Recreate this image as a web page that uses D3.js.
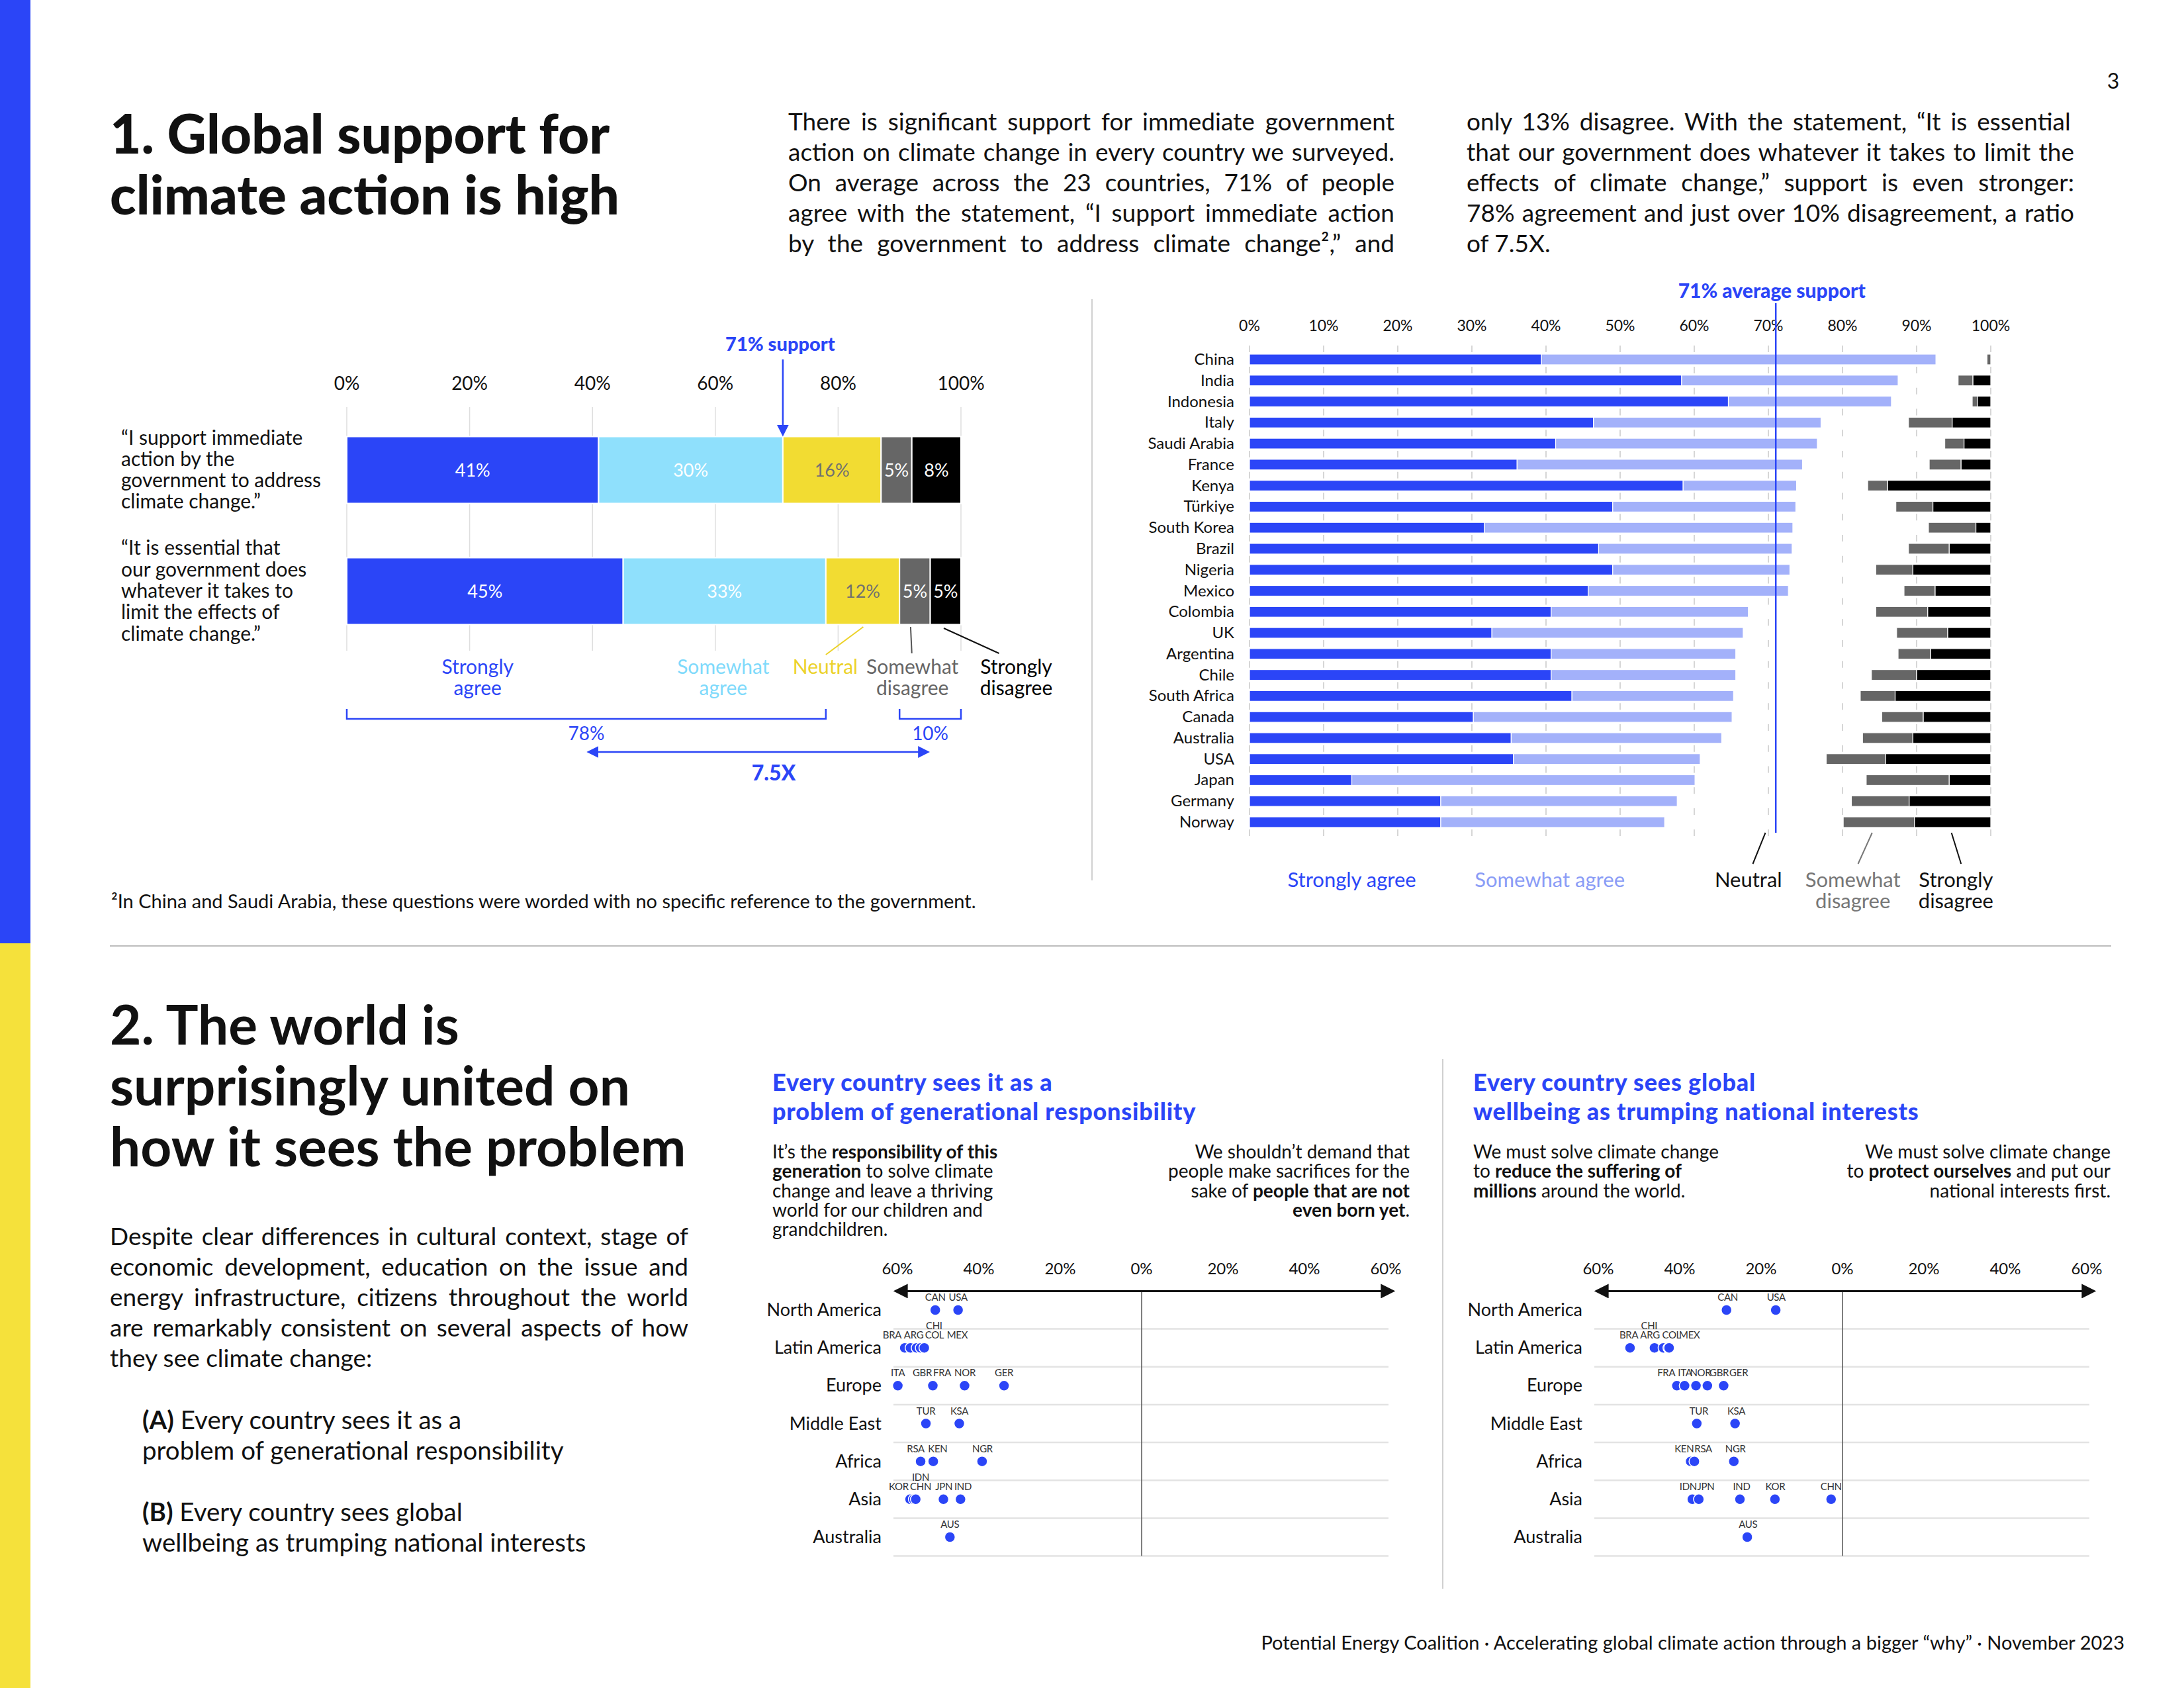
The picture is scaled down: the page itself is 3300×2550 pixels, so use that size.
<!DOCTYPE html>
<html><head><meta charset="utf-8">
<script src="https://cdn.jsdelivr.net/npm/d3@7"></script>
<style>
body{margin:0;background:#fff}
svg text{font-family:Lato,"Noto Sans",sans-serif}
</style></head>
<body><svg id="c" width="3300" height="2550"></svg>
<script>
// ---------------- DATA ----------------
const responseLabels = ["Strongly agree","Somewhat agree","Neutral","Somewhat disagree","Strongly disagree"];
const immediateActionShares = [41,30,16,5,8];
const whateverItTakesShares = [45,33,12,5,5];
const summaryTicks = [0,20,40,60,80,100];
const statementLines = [
  ["“I support immediate","action by the","government to address","climate change.”"],
  ["“It is essential that","our government does","whatever it takes to","limit the effects of","climate change.”"]
];
const averageSupport = 71;
const agreeDisagreeRatio = "7.5X";

const countries = ["China","India","Indonesia","Italy","Saudi Arabia","France","Kenya","Türkiye","South Korea","Brazil","Nigeria","Mexico","Colombia","UK","Argentina","Chile","South Africa","Canada","Australia","USA","Japan","Germany","Norway"];
const stronglyAgree    = [39.4,58.3,64.6,46.4,41.3,36.1,58.5,49.0,31.7,47.1,49.0,45.7,40.7,32.7,40.7,40.7,43.5,30.2,35.3,35.6,13.8,25.8,25.8];
const somewhatAgree    = [53.2,29.2,22.0,30.7,35.3,38.5,15.3,24.7,41.6,26.1,23.9,27.0,26.6,33.9,24.9,24.9,21.8,34.9,28.4,25.2,46.3,31.9,30.2];
const somewhatDisagree = [0.5,2.0,0.7,5.9,2.6,4.3,2.7,5.0,6.4,5.5,5.0,4.2,7.0,6.9,4.4,6.1,4.7,5.6,6.8,8.0,11.2,7.8,9.6];
const stronglyDisagree = [0.0,2.4,1.8,5.2,3.6,4.0,13.9,7.8,2.0,5.6,10.5,7.5,8.5,5.8,8.1,10.0,12.9,9.1,10.5,14.2,5.6,11.0,10.3];
const countryTicks = [0,10,20,30,40,50,60,70,80,90,100];

const regions = ["North America","Latin America","Europe","Middle East","Africa","Asia","Australia"];
const dotTicks = [-60,-40,-20,0,20,40,60];
// (A) generational responsibility: share leaning to left statement
const genCodes   = ["CAN","USA","BRA","ARG","CHI","COL","MEX","ITA","GBR","FRA","NOR","GER","TUR","KSA","RSA","KEN","NGR","KOR","IDN","CHN","JPN","IND","AUS"];
const genRegion  = [0,0,1,1,1,1,1,2,2,2,2,2,3,3,4,4,4,5,5,5,5,5,6];
const genValue   = [50.7,45.1,58.2,56.8,55.3,54.3,53.4,59.9,51.4,51.3,43.5,33.8,53.0,44.8,54.3,51.2,39.2,56.9,56.0,55.5,48.7,44.5,47.1];
const genLabelAt = [50.7,45.1,61.3,56.0,51.0,50.9,45.3,59.9,53.9,49.0,43.4,33.8,53.0,44.8,55.5,50.1,39.1,59.7,54.3,54.3,48.6,43.9,47.1];
const genTier    = [0,0,0,0,1,0,0,0,0,0,0,0,0,0,0,0,0,0,1,0,0,0,0];
// (B) global wellbeing vs national interests
const wellCodes   = ["CAN","USA","BRA","ARG","CHI","COL","MEX","FRA","ITA","NOR","GBR","GER","TUR","KSA","KEN","RSA","NGR","IDN","JPN","IND","KOR","CHN","AUS"];
const wellRegion  = [0,0,1,1,1,1,1,2,2,2,2,2,3,3,4,4,4,5,5,5,5,5,6];
const wellValue   = [28.5,16.4,52.2,46.2,44.0,42.8,42.6,40.7,38.8,36.0,33.2,29.2,35.8,26.4,37.3,36.4,26.7,36.9,35.3,25.2,16.6,2.8,23.4];
const wellLabelAt = [28.2,16.3,52.5,47.3,47.5,42.0,37.6,43.3,38.7,34.9,30.3,25.5,35.3,26.1,38.9,34.2,26.3,37.9,33.6,24.8,16.5,2.8,23.2];
const wellTier    = [0,0,0,0,1,0,0,0,0,0,0,0,0,0,0,0,0,0,0,0,0,0,0];

// ---------------- STYLE ----------------
const BLUE = "#2b45f7";
const respColors = [BLUE,"#8fe0fc","#f2dc32","#666666","#000000"];
const respText   = ["#ffffff","#ffffff","#707070","#ffffff","#ffffff"];
const SOFT_BLUE = "#a3b1fa";

const svg = d3.select("#c");
const defs = svg.append("defs");
function marker(id, color, size){
  defs.append("marker").attr("id",id).attr("viewBox","0 0 10 10").attr("refX",8).attr("refY",5)
    .attr("markerWidth",size).attr("markerHeight",size).attr("markerUnits","userSpaceOnUse")
    .attr("orient","auto-start-reverse")
    .append("path").attr("d","M0,0 L10,5 L0,10 z").attr("fill",color);
}
marker("arB", BLUE, 18);
marker("arK", "#111", 22);

function richText(g, str, x, y, size, o={}){
  const t = g.append("text").attr("x",x).attr("y",y).attr("font-size",size)
    .attr("fill",o.fill||"#111").attr("text-anchor",o.anchor||"start");
  if (o.weight) t.attr("font-weight",o.weight);
  if (o.ls) t.attr("letter-spacing",o.ls);
  str.split(/(\*\*[^*]+\*\*)/).filter(s=>s).forEach(seg=>{
    const b = seg.startsWith("**");
    t.append("tspan").attr("font-weight", b?700:null).text(b?seg.slice(2,-2):seg);
  });
  return t;
}
function block(g, lines, x, y0, lh, size, o={}){
  lines.forEach((ln,i)=>{
    const t = richText(g, ln, x, y0+i*lh, size, o);
    if (o.justify && !(o.lastLeft && i===lines.length-1)){
      const w = t.node().getComputedTextLength();
      const n = (ln.replace(/\*\*/g,"").match(/ /g)||[]).length;
      if (n) t.attr("word-spacing",(o.justify-w)/n);
    }
  });
}

// side strip
svg.append("rect").attr("x",0).attr("y",0).attr("width",46).attr("height",1425).attr("fill",BLUE);
svg.append("rect").attr("x",0).attr("y",1425).attr("width",46).attr("height",1125).attr("fill","#f5e13b");

const page = svg.append("g");
richText(page,"3",3193,134,32,{anchor:"middle"});

// ---------- Section 1 text ----------
block(page,["1. Global support for","climate action is high"],166,232,92,82,{weight:900});
block(page,[
 "There is significant support for immediate government",
 "action on climate change in every country we surveyed.",
 "On average across the 23 countries, 71% of people",
 "agree with the statement, “I support immediate action",
 "by the government to address climate change²,” and"],1191,197,46,37,{justify:916});
block(page,[
 "only 13% disagree.  With the statement, “It is essential",
 "that our government does whatever it takes to limit the",
 "effects of climate change,” support is even stronger:",
 "78% agreement and just over 10% disagreement, a ratio",
 "of 7.5X."],2216,197,46,37,{justify:918,lastLeft:true});

// ---------- Left summary chart ----------
(function(){
  const g = svg.append("g");
  const xs = d3.scaleLinear().domain([0,100]).range([524,1452]);
  const ys = d3.scalePoint().domain([0,1]).range([710,893]);
  const H = 101;
  g.selectAll(".gl").data(summaryTicks).join("line")
    .attr("x1",d=>xs(d)).attr("x2",d=>xs(d)).attr("y1",615).attr("y2",983)
    .attr("stroke","#dedede").attr("stroke-width",1.5);
  g.selectAll(".tl").data(summaryTicks).join("text")
    .attr("x",d=>xs(d)).attr("y",589).attr("text-anchor","middle").attr("font-size",28).attr("fill","#111")
    .text(d=>d+"%");
  [immediateActionShares, whateverItTakesShares].forEach((vals,i)=>{
    let cum=0;
    const segs = vals.map((v,j)=>{const s={j,v,a:cum,b:cum+v}; cum+=v; return s;});
    g.selectAll(".b"+i).data(segs).join("rect")
      .attr("x",d=>xs(d.a)).attr("width",d=>xs(d.b)-xs(d.a))
      .attr("y",ys(i)-H/2).attr("height",H)
      .attr("fill",d=>respColors[d.j]).attr("stroke","#fff").attr("stroke-width",2);
    g.selectAll(".v"+i).data(segs).join("text")
      .attr("x",d=>xs((d.a+d.b)/2)).attr("y",ys(i)+10).attr("text-anchor","middle")
      .attr("font-size",27).attr("fill",d=>respText[d.j]).text(d=>d.v+"%");
    const lines = statementLines[i];
    block(g, lines, 183, ys(i)+10-(lines.length-1)*32.3/2, 32.3, 30);
  });
  // 71% support arrow
  g.append("text").attr("x",xs(averageSupport)-4).attr("y",530).attr("text-anchor","middle")
    .attr("font-size",29).attr("font-weight",900).attr("fill",BLUE).text(averageSupport+"% support");
  g.append("line").attr("x1",xs(averageSupport)).attr("x2",xs(averageSupport)).attr("y1",543).attr("y2",656)
    .attr("stroke",BLUE).attr("stroke-width",2.5).attr("marker-end","url(#arB)");
  // legend labels
  const legAt = [21.3,61.3,77.9,92.1,109];
  const legLines = [["Strongly","agree"],["Somewhat","agree"],["Neutral"],["Somewhat","disagree"],["Strongly","disagree"]];
  const legCol = [BLUE,"#7fdafb","#ecd22a","#666666","#000000"];
  legLines.forEach((ls,k)=>ls.forEach((s,m)=>{
    g.append("text").attr("x",xs(legAt[k])).attr("y",1018+m*32).attr("text-anchor","middle")
      .attr("font-size",30).attr("fill",legCol[k]).text(s);
  }));
  const leaders = [[84.1,947,78.0,989,"#ecd22a"],[91.8,947,92.0,987,"#555"],[97.2,949,106.2,987,"#111"]];
  leaders.forEach(l=>g.append("line").attr("x1",xs(l[0])).attr("y1",l[1]).attr("x2",xs(l[2])).attr("y2",l[3])
    .attr("stroke",l[4]).attr("stroke-width",2));
  // brackets
  const agreeTotal = whateverItTakesShares[0]+whateverItTakesShares[1];
  const disTotal = whateverItTakesShares[3]+whateverItTakesShares[4];
  const br = (a,b)=>g.append("path").attr("d",`M${xs(a)},1071V1086H${xs(b)}V1071`)
    .attr("fill","none").attr("stroke",BLUE).attr("stroke-width",2.5);
  br(0,agreeTotal); br(100-disTotal,100);
  g.append("text").attr("x",xs(agreeTotal/2)).attr("y",1118).attr("text-anchor","middle").attr("font-size",28).attr("fill",BLUE).text(agreeTotal+"%");
  g.append("text").attr("x",xs(100-disTotal/2)).attr("y",1118).attr("text-anchor","middle").attr("font-size",28).attr("fill",BLUE).text(disTotal+"%");
  g.append("line").attr("x1",xs(agreeTotal/2)+4).attr("x2",xs(100-disTotal/2)-4).attr("y1",1136).attr("y2",1136)
    .attr("stroke",BLUE).attr("stroke-width",2.5).attr("marker-start","url(#arB)").attr("marker-end","url(#arB)");
  g.append("text").attr("x",xs(69.5)).attr("y",1179).attr("text-anchor","middle").attr("font-size",32)
    .attr("font-weight",900).attr("fill",BLUE).text(agreeDisagreeRatio);
})();

// divider + footnote + rule
svg.append("line").attr("x1",1650).attr("x2",1650).attr("y1",452).attr("y2",1330).attr("stroke","#d0d0d0").attr("stroke-width",2);
richText(page,"²In China and Saudi Arabia, these questions were worded with no specific reference to the government.",168,1372,29);
svg.append("line").attr("x1",166).attr("x2",3190).attr("y1",1429).attr("y2",1429).attr("stroke","#bdbdbd").attr("stroke-width",2);

// ---------- Right country chart ----------
(function(){
  const g = svg.append("g");
  const xr = d3.scaleLinear().domain([0,100]).range([1888,3008]);
  const yr = d3.scalePoint().domain(countries).range([543,1242]);
  const step = yr.step(), H = 16;
  const gaps = d3.range(-1,countries.length);
  countryTicks.forEach(t=>{
    g.selectAll(null).data(gaps).join("line")
      .attr("x1",xr(t)).attr("x2",xr(t))
      .attr("y1",i=>543+i*step+step/2-5).attr("y2",i=>543+i*step+step/2+5)
      .attr("stroke","#d6d6d6").attr("stroke-width",2);
  });
  g.selectAll(".t").data(countryTicks).join("text").attr("x",d=>xr(d)).attr("y",500)
    .attr("text-anchor","middle").attr("font-size",23).attr("fill","#111").text(d=>d+"%");
  const rows = countries.map((c,i)=>({c,sa:stronglyAgree[i],wa:somewhatAgree[i],sd:somewhatDisagree[i],xd:stronglyDisagree[i]}));
  const rect = (sel,f0,f1,col)=>sel.append("rect").attr("x",d=>xr(f0(d))).attr("width",d=>Math.max(0,xr(f1(d))-xr(f0(d))))
      .attr("y",d=>yr(d.c)-H/2).attr("height",H).attr("fill",col).attr("stroke","#fff").attr("stroke-width",1.2);
  const rg = g.selectAll(".row").data(rows).join("g");
  rect(rg,d=>0,d=>d.sa,BLUE);
  rect(rg,d=>d.sa,d=>d.sa+d.wa,SOFT_BLUE);
  rect(rg,d=>100-d.xd-d.sd,d=>100-d.xd,"#666666");
  rect(rg,d=>100-d.xd,d=>100,"#000000");
  rg.append("text").attr("x",1865).attr("y",d=>yr(d.c)+8).attr("text-anchor","end").attr("font-size",24).attr("fill","#111").text(d=>d.c);
  g.append("line").attr("x1",xr(averageSupport)).attr("x2",xr(averageSupport)).attr("y1",458).attr("y2",1258)
    .attr("stroke",BLUE).attr("stroke-width",2.5);
  g.append("text").attr("x",xr(averageSupport)-6).attr("y",450).attr("text-anchor","middle").attr("font-size",30)
    .attr("font-weight",900).attr("fill",BLUE).text(averageSupport+"% average support");
  const legAt = [13.8,40.5,67.3,81.4,95.3];
  const legLines = [["Strongly agree"],["Somewhat agree"],["Neutral"],["Somewhat","disagree"],["Strongly","disagree"]];
  const legCol = [BLUE,"#8a9cf6","#111","#777","#111"];
  legLines.forEach((ls,k)=>ls.forEach((s,m)=>g.append("text").attr("x",xr(legAt[k])).attr("y",1340+m*32)
    .attr("text-anchor","middle").attr("font-size",31).attr("fill",legCol[k]).text(s)));
  [[69.6,67.9,"#111"],[84.0,82.1,"#777"],[94.7,96.0,"#111"]].forEach(l=>g.append("line")
    .attr("x1",xr(l[0])).attr("y1",1258).attr("x2",xr(l[1])).attr("y2",1305).attr("stroke",l[2]).attr("stroke-width",2));
})();

// ---------- Section 2 text ----------
block(page,["2. The world is","surprisingly united on","how it sees the problem"],166,1578,92,82,{weight:700});
block(page,[
 "Despite clear differences in cultural context, stage of",
 "economic development, education on the issue and",
 "energy infrastructure, citizens throughout the world",
 "are remarkably consistent on several aspects of how",
 "they see climate change:"],166,1881,46,37,{justify:874,lastLeft:true});
block(page,["**(A)** Every country sees it as a","problem of generational responsibility"],215,2159,46,38.5);
block(page,["**(B)** Every country sees global","wellbeing as trumping national interests"],215,2298,46,38.5);

svg.append("line").attr("x1",2180).attr("x2",2180).attr("y1",1600).attr("y2",2400).attr("stroke","#d0d0d0").attr("stroke-width",2);

// ---------- Dot charts ----------
function dotChart(o){
  const g = svg.append("g");
  const x = d3.scaleLinear().domain([-60,60]).range([o.x0,o.x1]);
  const y = d3.scalePoint().domain(regions).range([1979,2322]);
  const half = y.step()/2;
  block(g,o.title,o.tx,1648,44,36,{weight:900,fill:BLUE,ls:0.8});
  block(g,o.left,o.tx,1750,29.3,28);
  block(g,o.right,o.rx,1750,29.3,28,{anchor:"end"});
  g.selectAll(".tk").data(dotTicks).join("text").attr("x",d=>x(d)).attr("y",1925).attr("text-anchor","middle")
    .attr("font-size",24).attr("fill","#111").text(d=>Math.abs(d)+"%");
  g.selectAll(".sep").data(regions).join("line").attr("x1",x(-60)-6).attr("x2",x(60)+4)
    .attr("y1",d=>y(d)+half).attr("y2",d=>y(d)+half).attr("stroke","#e3e3e3").attr("stroke-width",2.5);
  g.append("line").attr("x1",x(0)).attr("x2",x(0)).attr("y1",y(regions[0])-half).attr("y2",y(regions[6])+half)
    .attr("stroke","#555").attr("stroke-width",1.5);
  g.append("line").attr("x1",x(-60)-2).attr("x2",x(60)+10).attr("y1",y(regions[0])-half).attr("y2",y(regions[0])-half)
    .attr("stroke","#111").attr("stroke-width",3).attr("marker-start","url(#arK)").attr("marker-end","url(#arK)");
  g.selectAll(".rl").data(regions).join("text").attr("x",x(-60)-24).attr("y",d=>y(d)+9).attr("text-anchor","end")
    .attr("font-size",27).attr("fill","#111").text(d=>d);
  const pts = o.codes.map((c,i)=>({c,r:regions[o.region[i]],v:o.value[i],l:o.labelAt[i],t:o.tier[i]}));
  g.selectAll(".dot").data(pts).join("circle").attr("cx",d=>x(-d.v)).attr("cy",d=>y(d.r)).attr("r",8)
    .attr("fill",BLUE).attr("stroke","#fff").attr("stroke-width",1.5);
  g.selectAll(".lab").data(pts).join("text").attr("x",d=>x(-d.l)).attr("y",d=>y(d.r)-14-d.t*14)
    .attr("text-anchor","middle").attr("font-size",15).attr("fill","#333").attr("letter-spacing",-0.3).text(d=>d.c);
}
dotChart({x0:1356,x1:2094,tx:1167,rx:2130,
  title:["Every country sees it as a","problem of generational responsibility"],
  left:["It’s the **responsibility of this**","**generation** to solve climate","change and leave a thriving","world for our children and","grandchildren."],
  right:["We shouldn’t demand that","people make sacrifices for the","sake of **people that are not**","**even born yet**."],
  codes:genCodes,region:genRegion,value:genValue,labelAt:genLabelAt,tier:genTier});
dotChart({x0:2415,x1:3153,tx:2226,rx:3189,
  title:["Every country sees global","wellbeing as trumping national interests"],
  left:["We must solve climate change","to **reduce the suffering of**","**millions** around the world."],
  right:["We must solve climate change","to **protect ourselves** and put our","national interests first."],
  codes:wellCodes,region:wellRegion,value:wellValue,labelAt:wellLabelAt,tier:wellTier});

// footer
richText(page,"Potential Energy Coalition · Accelerating global climate action through a bigger “why” · November 2023",3210,2492,29,{anchor:"end"});
</script></body></html>
